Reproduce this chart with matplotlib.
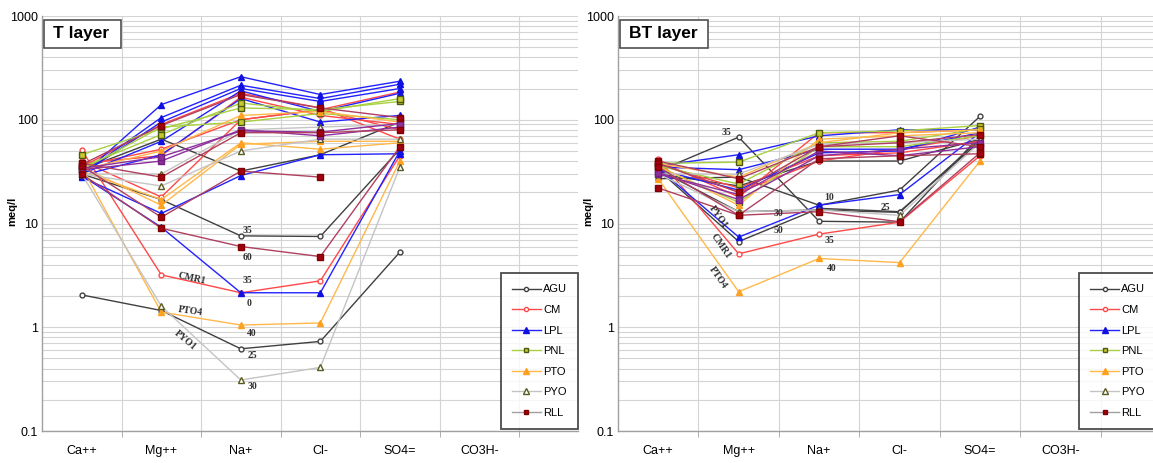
import numpy as np
import matplotlib
matplotlib.use('Agg')
import matplotlib.pyplot as plt
from matplotlib.lines import Line2D
from matplotlib.patches import Rectangle
from matplotlib.ticker import LogLocator, FixedLocator, FixedFormatter, NullFormatter

plt.rcParams['font.family'] = ['Liberation Sans', 'DejaVu Sans']

ions = ['Ca++', 'Mg++', 'Na+', 'Cl-', 'SO4=', 'CO3H-']
sites = ['AGU', 'CM', 'LPL', 'PNL', 'PTO', 'PYO', 'RLL']
yticks = [0.1, 1, 10, 100, 1000]
ytick_labels = ['0.1', '1', '10', '100', '1000']
N = np.nan

# ---- T layer (values for Ca++, Mg++, Na+, Cl-, SO4=) ----
t_agu = [[2.05, 1.45, 0.62, 0.73, 5.3], [30, 17, 7.6, 7.5, 52], [33, 65, 32, 46, 95]]
t_cm = [[51, 3.2, 2.15, 2.8, 45], [35, 90, 180, 130, 65], [36, 52, 100, 125, 185],
        [40, 18, 100, 125, 80], [38, 45, 165, 110, 90]]
t_lpl = [[29, 140, 260, 175, 235], [30, 105, 215, 160, 220], [30, 95, 200, 150, 200],
         [30, 62, 190, 120, 180], [29, 46, 160, 95, 110], [28, 12.5, 29, 46, 47],
         [29, 9.2, 2.15, 2.15, 50]]
t_pnl = [[46, 82, 130, 125, 150], [35, 72, 145, 120, 160], [33, 85, 95, 115, 100]]
t_pto = [[33, 50, 110, 120, 95], [35, 15, 58, 62, 62], [32, 17, 60, 52, 60], [35, 1.4, 1.05, 1.1, 40]]
t_pyo = [[30, 23, 50, 65, 65], [30, 1.6, 0.31, 0.41, 35], [30, 30, 80, 85, 90]]
t_rll = [[37, 88, 175, 130, 105], [38, 28, 75, 75, 80], [36, 11.5, 32, 28, N],
         [30, 9, 6, 4.8, 55]]
t_purple = [[33, 40, 80, 70, 85], [34, 44, 78, 76, 92]]

# ---- BT layer ----
bt_agu = [[32, 68, 10.5, 10.3, 70], [27, 28, 15, 21, 108], [33, 13, 13.5, 12.8, 65],
          [30, 23, 40, 40, 65], [33, 6.7, 14, 13, 62]]
bt_cm = [[42, 5.1, 7.9, 10.3, 45], [40, 18, 75, 75, 80], [38, 20, 40, 52, 70], [37, 22, 45, 48, 62]]
bt_lpl = [[36, 46, 70, 80, 80], [35, 33, 52, 52, 75], [33, 21, 48, 50, 85], [34, 7.4, 15, 19, 75]]
bt_pnl = [[38, 39, 75, 78, 88], [36, 24, 60, 62, 82], [35, 16, 55, 55, 70]]
bt_pto = [[36, 15, 65, 70, 75], [38, 28, 60, 75, 80], [27, 2.2, 4.6, 4.2, 40]]
bt_pyo = [[30, 13, 13.5, 12, 60], [30, 30, 58, 60, 65]]
bt_rll = [[40, 27, 55, 60, 72], [22, 12, 42, 45, 47], [38, 20, 55, 70, 55],
          [35, 12, 13, 10.4, 48]]
bt_purple = [[30, 19, 50, 45, 55], [31, 17, 45, 52, 60]]

# annotations: (text, x-category position, y value, rotation)
t_notes = [('35', 2.08, 8.6, 0), ('60', 2.09, 4.75, 0), ('35', 2.08, 2.85, 0), ('0', 2.1, 1.71, 0),
           ('CMR1', 1.39, 2.98, -12), ('PTO4', 1.37, 1.43, -8), ('PYO1', 1.3, 0.75, -40),
           ('40', 2.14, 0.88, 0), ('25', 2.14, 0.54, 0), ('30', 2.14, 0.27, 0)]
bt_notes = [('35', 0.85, 76, 0), ('10', 2.13, 18, 0), ('30', 1.49, 12.6, 0), ('25', 2.82, 14.4, 0),
            ('50', 1.49, 8.65, 0), ('35', 2.13, 6.93, 0), ('40', 2.16, 3.7, 0),
            ('PYO1', 0.74, 11.6, -55), ('CMR1', 0.77, 6.0, -55), ('PTO4', 0.74, 2.98, -55)]

styles = {
    'AGU': dict(color='#404040', marker='o', mfc='white', mec='#404040', ms=3.5),
    'CM': dict(color='#FF4848', marker='o', mfc='white', mec='#FF4848', ms=3.5),
    'LPL': dict(color='#2222FF', marker='^', mfc='#1010E0', mec='#1010E0', ms=5),
    'PNL': dict(color='#A8D040', marker='s', mfc='#C8C830', mec='#4A5A10', ms=4),
    'PTO': dict(color='#FFB84A', marker='^', mfc='#FFA020', mec='#FFA020', ms=5),
    'PYO': dict(color='#C4C4C4', marker='^', mfc='white', mec='#5A5A20', ms=4.5),
    'RLL': dict(color='#B04060', marker='s', mfc='#A00010', mec='#800000', ms=4),
}
purple_style = dict(color='#8E2F9E', marker='s', mfc='#8E2F9E', mec='#702080', ms=4)
legend_line_colors = {'RLL': '#A0A0A0'}

def draw(ax, groups, extra, notes, title, right_lim, title_box_w, leg_x0):
    x = np.arange(len(ions))
    order = [(styles[s], rows) for s, rows in zip(sites[:-1], groups[:-1])]
    order.append((purple_style, extra))
    order.append((styles['RLL'], groups[-1]))
    for st, rows in order:
        for r in rows:
            y = np.array(list(r) + [N] * (len(ions) - len(r)), dtype=float)
            ax.plot(x, y, lw=1.0, color=st['color'], marker=st['marker'], ms=st['ms'],
                    mfc=st['mfc'], mec=st['mec'], mew=1.0, zorder=3)
    ax.set_yscale('log')
    ax.set_ylim(0.1, 1000)
    ax.set_xlim(-0.5, right_lim)
    ax.yaxis.set_major_locator(FixedLocator(yticks))
    ax.yaxis.set_major_formatter(FixedFormatter(ytick_labels))
    ax.yaxis.set_minor_locator(LogLocator(base=10, subs=range(2, 10)))
    ax.yaxis.set_minor_formatter(NullFormatter())
    ax.set_xticks(x)
    ax.set_xticklabels(ions, fontsize=9)
    ax.set_xticks(np.arange(0.5, right_lim, 1), minor=True)
    ax.tick_params(axis='x', which='major', length=0, pad=10)
    ax.tick_params(axis='x', which='minor', length=4, color='#A0A0A0')
    ax.tick_params(axis='y', which='both', length=0, labelsize=9, pad=3)
    ax.yaxis.grid(True, which='both', color='#D4D4D4', lw=0.8, zorder=0)
    ax.xaxis.grid(True, which='minor', color='#D4D4D4', lw=0.8, zorder=0)
    ax.set_axisbelow(True)
    for s in ['top', 'right']:
        ax.spines[s].set_visible(False)
    for s in ['left', 'bottom']:
        ax.spines[s].set_color('#A0A0A0')
        ax.spines[s].set_linewidth(1.0)
    ax.set_ylabel('meq/l', fontsize=8, fontweight='bold')
    ax.yaxis.set_label_coords(-0.047, 0.53)
    # title box
    ax.add_patch(Rectangle((0.003, 0.923), title_box_w, 0.068, transform=ax.transAxes,
                           facecolor='white', edgecolor='#505050', lw=1.2, zorder=5, clip_on=False))
    ax.text(0.02, 0.957, title, transform=ax.transAxes, fontsize=12.5, fontweight='bold',
            va='center', ha='left', zorder=6)
    for t, xx, yy, rot in notes:
        ax.text(xx, yy, t, fontsize=7, fontweight='bold', family='Liberation Serif',
                color='#303030', ha='center', va='center', rotation=rot, zorder=4)
    handles = []
    for site in sites:
        st = styles[site]
        handles.append(Line2D([], [], color=legend_line_colors.get(site, st['color']), lw=1.0,
                              marker=st['marker'], ms=st['ms'] - 0.5, mfc=st['mfc'], mec=st['mec']))
    leg = ax.legend(handles, sites, loc='lower left', bbox_to_anchor=(leg_x0, 0.005),
                    fontsize=8, frameon=True, fancybox=False, edgecolor='#202020',
                    handlelength=2.6, handletextpad=0.2, labelspacing=0.95, borderpad=1.0,
                    borderaxespad=0)
    leg.get_frame().set_linewidth(1.3)
    leg.set_zorder(7)

fig = plt.figure(figsize=(11.53, 4.63), dpi=100)
ax1 = fig.add_axes([42 / 1153, 32 / 463, 536 / 1153, 415 / 463])
ax2 = fig.add_axes([618 / 1153, 32 / 463, 535 / 1153, 415 / 463])

draw(ax1, [t_agu, t_cm, t_lpl, t_pnl, t_pto, t_pyo, t_rll], t_purple, t_notes, 'T layer', 6.24, 0.144, 0.856)
draw(ax2, [bt_agu, bt_cm, bt_lpl, bt_pnl, bt_pto, bt_pyo, bt_rll], bt_purple, bt_notes, 'BT layer', 6.15, 0.165, 0.862)

fig.savefig('out.png', dpi=100)
